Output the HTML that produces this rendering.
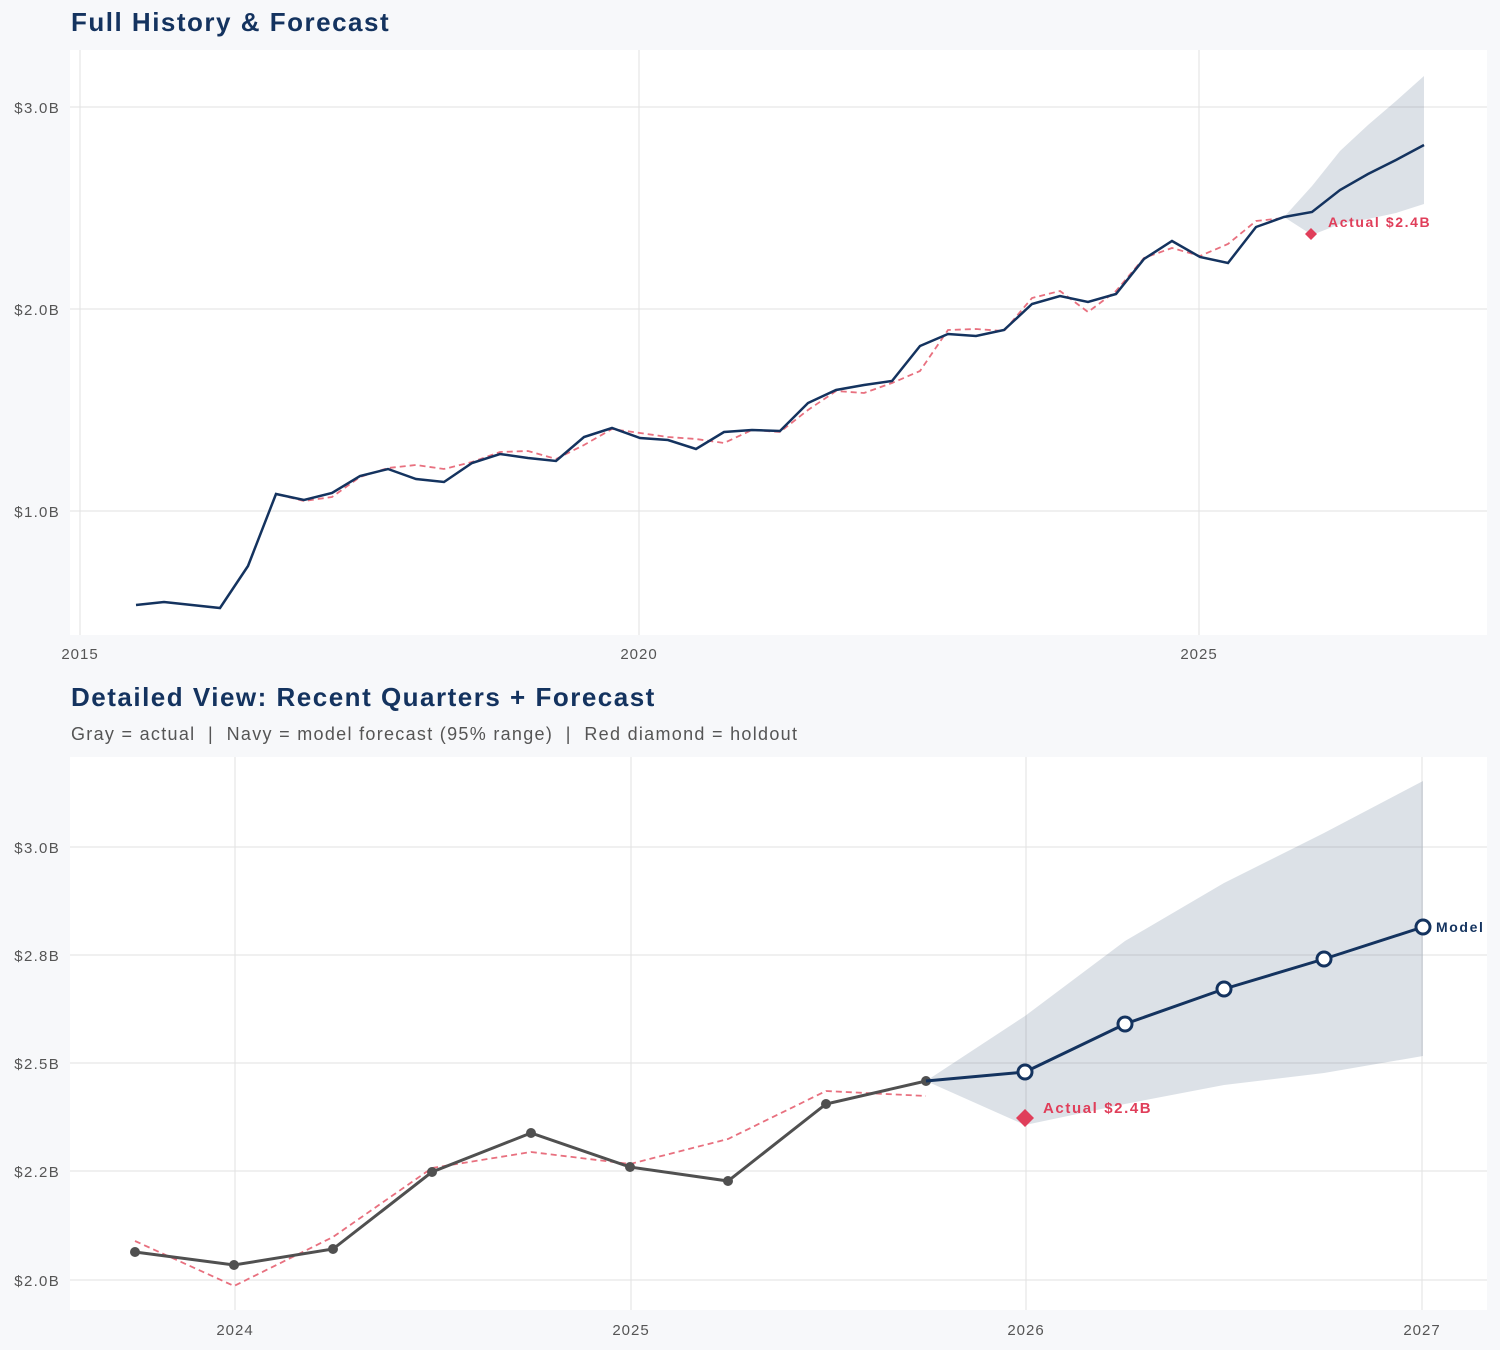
<!DOCTYPE html>
<html><head><meta charset="utf-8"><style>
body{margin:0;background:#f7f8fa;}
svg{display:block;font-family:"Liberation Sans",sans-serif;}
</style></head><body>
<svg width="1500" height="1350" viewBox="0 0 1500 1350">
<rect width="1500" height="1350" fill="#f7f8fa"/>
<!-- TOP -->
<text x="71" y="31" font-size="26" font-weight="bold" fill="#14335f" letter-spacing="1.5">Full History &amp; Forecast</text>
<rect x="70" y="50" width="1417" height="585" fill="#fff"/>
<g stroke="#e2e2e2" stroke-width="1">
<line x1="70" x2="1487" y1="107" y2="107"/><line x1="70" x2="1487" y1="309" y2="309"/><line x1="70" x2="1487" y1="511" y2="511"/>
<line x1="80" x2="80" y1="50" y2="635"/><line x1="639" x2="639" y1="50" y2="635"/><line x1="1199" x2="1199" y1="50" y2="635"/>
</g>
<g font-size="15" fill="#555" text-anchor="end" letter-spacing="1.3">
<text x="60" y="113">$3.0B</text><text x="60" y="315">$2.0B</text><text x="60" y="517">$1.0B</text></g>
<g font-size="15" fill="#555" text-anchor="middle" letter-spacing="1">
<text x="80" y="659">2015</text><text x="639" y="659">2020</text><text x="1199" y="659">2025</text></g>
<polygon fill="#14335f" fill-opacity="0.15" points="1284,217 1312,186 1340,151 1368,125 1396,101 1424,76 1424,204 1396,213 1368,219 1340,224 1312,235"/>
<polyline fill="none" stroke="#e8707f" stroke-width="1.8" stroke-dasharray="6,4" points="248,566 276,494 304,501 332,497 360,477 388,468 416,465 444,469 472,462 500,452 528,451 556,459 584,445 612,429 640,433 668,437 696,439 724,443 752,430 780,432 808,410 836,391 864,393 892,383 920,371 948,330 976,329 1004,331 1032,298 1060,291 1088,312 1116,291 1144,258 1172,248 1200,256 1228,244 1256,221 1284,218"/>
<polyline fill="none" stroke="#14335f" stroke-width="2.5" points="136,605 164,602 220,608 248,566 276,494 304,500 332,493 360,476 388,469 416,479 444,482 472,463 500,454 528,458 556,461 584,437 612,428 640,438 668,440 696,449 724,432 752,430 780,431 808,403 836,390 864,385 892,381 920,346 948,334 976,336 1004,330 1032,304 1060,296 1088,302 1116,294 1144,259 1172,241 1200,257 1228,263 1256,227 1284,217 1312,212 1340,190 1368,174 1396,160 1424,145"/>
<polygon fill="#e03e5a" points="1311,228 1317,234 1311,240 1305,234"/>
<text x="1328" y="227" font-size="14" font-weight="bold" fill="#e03e5a" letter-spacing="1.6">Actual $2.4B</text>
<!-- BOTTOM -->
<text x="71" y="706" font-size="26" font-weight="bold" fill="#14335f" letter-spacing="1.5">Detailed View: Recent Quarters + Forecast</text>
<text x="71" y="740" font-size="18" fill="#555" letter-spacing="1.3" xml:space="preserve" style="white-space:pre">Gray = actual  |  Navy = model forecast (95% range)  |  Red diamond = holdout</text>
<rect x="70" y="757" width="1417" height="553" fill="#fff"/>
<g stroke="#e2e2e2" stroke-width="1">
<line x1="70" x2="1487" y1="847" y2="847"/><line x1="70" x2="1487" y1="955" y2="955"/><line x1="70" x2="1487" y1="1063" y2="1063"/><line x1="70" x2="1487" y1="1171" y2="1171"/><line x1="70" x2="1487" y1="1280" y2="1280"/>
<line x1="235" x2="235" y1="757" y2="1310"/><line x1="631" x2="631" y1="757" y2="1310"/><line x1="1026" x2="1026" y1="757" y2="1310"/><line x1="1422" x2="1422" y1="757" y2="1310"/>
</g>
<g font-size="15" fill="#555" text-anchor="end" letter-spacing="1.3">
<text x="60" y="853">$3.0B</text><text x="60" y="961">$2.8B</text><text x="60" y="1069">$2.5B</text><text x="60" y="1177">$2.2B</text><text x="60" y="1286">$2.0B</text></g>
<g font-size="15" fill="#555" text-anchor="middle" letter-spacing="1">
<text x="235" y="1335">2024</text><text x="631" y="1335">2025</text><text x="1026" y="1335">2026</text><text x="1422" y="1335">2027</text></g>
<polygon fill="#14335f" fill-opacity="0.15" points="926,1081 1025,1016 1125,941 1224,883 1324,833 1423,781 1423,1056 1324,1073 1224,1085 1125,1104 1025,1125"/>
<polyline fill="none" stroke="#e8707f" stroke-width="1.8" stroke-dasharray="6,4" points="135,1241 234,1286 333,1237 432,1168 531,1152 630,1164 728,1139 826,1091 926,1096"/>
<polyline fill="none" stroke="#505050" stroke-width="3" points="135,1252 234,1265 333,1249 432,1172 531,1133 630,1167 728,1181 826,1104 926,1081"/>
<g fill="#505050"><circle cx="135" cy="1252" r="5"/><circle cx="234" cy="1265" r="5"/><circle cx="333" cy="1249" r="5"/><circle cx="432" cy="1172" r="5"/><circle cx="531" cy="1133" r="5"/><circle cx="630" cy="1167" r="5"/><circle cx="728" cy="1181" r="5"/><circle cx="826" cy="1104" r="5"/><circle cx="926" cy="1081" r="5"/></g>
<polyline fill="none" stroke="#14335f" stroke-width="3" points="926,1081 1025,1072 1125,1024 1224,989 1324,959 1423,927"/>
<g fill="#fff" stroke="#14335f" stroke-width="3"><circle cx="1025" cy="1072" r="7"/><circle cx="1125" cy="1024" r="7"/><circle cx="1224" cy="989" r="7"/><circle cx="1324" cy="959" r="7"/><circle cx="1423" cy="927" r="7"/></g>
<polygon fill="#e03e5a" points="1025,1109 1034,1118 1025,1127 1016,1118"/>
<text x="1043" y="1113" font-size="15" font-weight="bold" fill="#e03e5a" letter-spacing="1.6">Actual $2.4B</text>
<text x="1436" y="932" font-size="14" font-weight="bold" fill="#14335f" letter-spacing="1.6">Model</text>
</svg>
</body></html>
